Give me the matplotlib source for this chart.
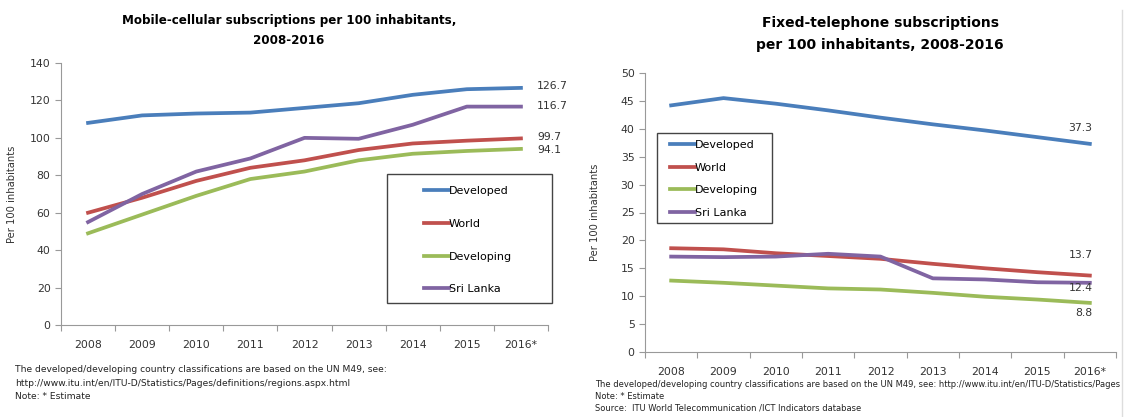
import numpy as np
import matplotlib.pyplot as plt

years = ['2008', '2009', '2010', '2011', '2012', '2013', '2014', '2015', '2016*']
series = ['Developed', 'World', 'Developing', 'Sri Lanka']
colors = ['#4A7EBB', '#C0504D', '#9BBB59', '#8064A2']

# mobile-cellular per 100
mob_developed = [108, 112, 113, 113.5, 116, 118.5, 123, 126, 126.7]
mob_world = [60, 68, 77, 84, 88, 93.5, 97, 98.5, 99.7]
mob_developing = [49, 59, 69, 78, 82, 88, 91.5, 93, 94.1]
mob_srilanka = [55, 70, 82, 89, 100, 99.5, 107, 116.7, 116.7]

# fixed-telephone per 100
fix_developed = [44.2, 45.5, 44.5, 43.3, 42.0, 40.8, 39.7, 38.5, 37.3]
fix_world = [18.6, 18.4, 17.7, 17.2, 16.7, 15.8, 15.0, 14.3, 13.7]
fix_developing = [12.8, 12.4, 11.9, 11.4, 11.2, 10.6, 9.9, 9.4, 8.8]
fix_srilanka = [17.1, 17.0, 17.1, 17.6, 17.1, 13.2, 13.0, 12.5, 12.4]

W, H = 1132, 417
fig = plt.figure(figsize=(W / 100, H / 100), dpi=100)
plt.rcParams['font.family'] = ['DejaVu Sans']


def fx(px):
    return px / W


def fy(py):
    return 1 - py / H


def px_axes(x0, x1, ytop, ybot):
    return fig.add_axes([fx(x0), fy(ybot), (x1 - x0) / W, (ybot - ytop) / H])


def style(ax, ymax, step):
    x = np.arange(len(years))
    ax.set_xlim(-0.5, len(years) - 0.5)
    ax.set_ylim(0, ymax)
    ax.set_yticks(np.arange(0, ymax + 1, step))
    # ticks between categories, labels at the centres (excel style)
    ax.set_xticks(np.arange(-0.5, len(years), 1))
    ax.set_xticklabels([])
    ax.set_xticks(x, minor=True)
    ax.set_xticklabels(years, minor=True, fontsize=7.8, color='#333333')
    ax.tick_params(axis='x', which='minor', length=0, pad=11)
    ax.tick_params(axis='x', which='major', length=4, color='#999999')
    ax.tick_params(axis='y', length=4, color='#999999', labelsize=7.8, labelcolor='#333333')
    for s in ['top', 'right']:
        ax.spines[s].set_visible(False)
    for s in ['left', 'bottom']:
        ax.spines[s].set_color('#999999')
    ax.set_ylabel('Per 100 inhabitants', fontsize=7.2, color='#333333')


def legend_box(ax, x0, y0, x1, y1, hx, hy, spacing):
    leg = ax.legend(loc='upper left', bbox_to_anchor=(fx(hx), fy(hy)),
                    bbox_transform=fig.transFigure, fontsize=8, frameon=False,
                    handlelength=2.25, handletextpad=0, labelspacing=spacing,
                    borderpad=0, borderaxespad=0)
    fig.patches.append(plt.Rectangle((fx(x0), fy(y1)), (x1 - x0) / W, (y1 - y0) / H,
                                     transform=fig.transFigure, fill=False,
                                     edgecolor='#444444', lw=1))
    return leg


x = np.arange(len(years))
LW = 2.7

# left chart
ax1 = px_axes(61, 548, 63, 325)
for vals, name, c in zip([mob_developed, mob_world, mob_developing, mob_srilanka], series, colors):
    ax1.plot(x, vals, color=c, lw=LW, label=name)
style(ax1, 140, 20)
ax1.yaxis.set_label_coords(-0.09, 0.5)
ax1.text(8.3, mob_developed[-1] + 0.8, '126.7', fontsize=7.8, va='center', color='#333333')
ax1.text(8.3, mob_srilanka[-1] + 0.5, '116.7', fontsize=7.8, va='center', color='#333333')
ax1.text(8.3, mob_world[-1] + 0.8, '99.7', fontsize=7.8, va='center', color='#333333')
ax1.text(8.3, mob_developing[-1] - 0.6, '94.1', fontsize=7.8, va='center', color='#333333')
fig.text(fx(289), fy(30.5), 'Mobile-cellular subscriptions per 100 inhabitants,\n2008-2016',
         fontsize=8.6, fontweight='bold', ha='center', va='center', linespacing=1.7)
legend_box(ax1, 387, 174, 552, 303, 424, 186, 2.05)

fig.text(fx(15), fy(365), 'The developed/developing country classifications are based on the UN M49, see:\n'
         'http://www.itu.int/en/ITU-D/Statistics/Pages/definitions/regions.aspx.html\n'
         'Note: * Estimate', fontsize=6.6, va='top', linespacing=1.65, color='#222222')

# right chart
ax2 = px_axes(645, 1116, 73, 352)
for vals, name, c in zip([fix_developed, fix_world, fix_developing, fix_srilanka], series, colors):
    ax2.plot(x, vals, color=c, lw=LW, label=name)
style(ax2, 50, 5)
ax2.yaxis.set_label_coords(-0.096, 0.5)
ax2.text(8.05, fix_developed[-1] + 2.8, '37.3', fontsize=7.8, ha='right', va='center', color='#333333')
ax2.text(8.05, fix_world[-1] + 3.7, '13.7', fontsize=7.8, ha='right', va='center', color='#333333')
ax2.text(8.05, fix_srilanka[-1] - 0.9, '12.4', fontsize=7.8, ha='right', va='center', color='#333333')
ax2.text(8.05, fix_developing[-1] - 1.8, '8.8', fontsize=7.8, ha='right', va='center', color='#333333')
fig.text(fx(880), fy(34), 'Fixed-telephone subscriptions\nper 100 inhabitants, 2008-2016',
         fontsize=10, fontweight='bold', ha='center', va='center', linespacing=1.75)
legend_box(ax2, 657, 133, 772, 223, 670, 140, 1.13)

fig.text(fx(595), fy(380), 'The developed/developing country classifications are based on the UN M49, see: http://www.itu.int/en/ITU-D/Statistics/Pages\n'
         'Note: * Estimate\n'
         'Source:  ITU World Telecommunication /ICT Indicators database',
         fontsize=6.0, va='top', linespacing=1.4, color='#222222')

# faint border on the right of the second panel
fig.add_artist(plt.Line2D([fx(1122), fx(1122)], [fy(10), fy(417)], transform=fig.transFigure,
                          color='#dddddd', lw=1))

fig.savefig('out.png', dpi=100)
